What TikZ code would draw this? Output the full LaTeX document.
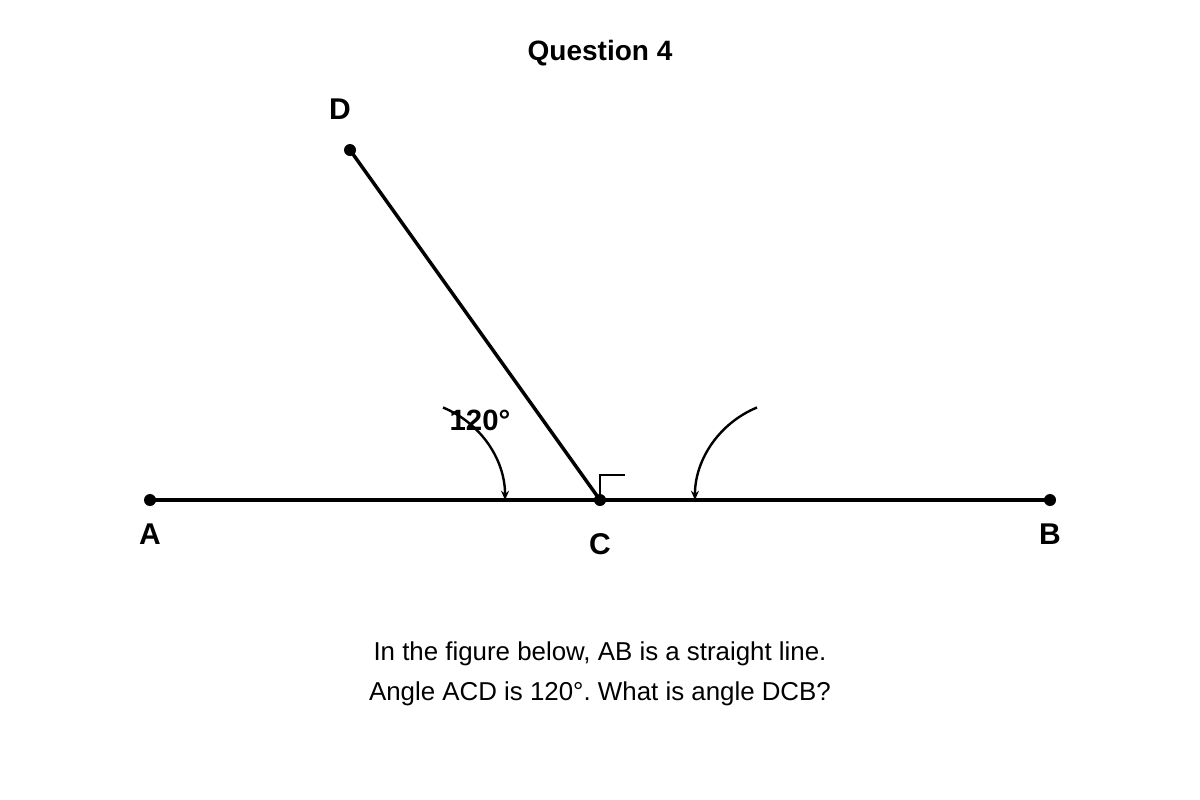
\documentclass[tikz,border=0pt]{standalone}
\usepackage{fontspec}
\setmainfont{Liberation Sans}
\usetikzlibrary{arrows.meta}
\frenchspacing

\begin{document}
\begin{tikzpicture}
		[
		x=0.75pt, y=-0.75pt,
		dot/.style={circle, fill=black, inner sep=0pt, minimum size=9pt},
		lbl/.style={font=\fontsize{22.5}{26}\selectfont\bfseries},
		seg/.style={line width=2.6pt},
		anglearc/.style={line width=1.8pt, -{Stealth[length=7pt,width=6pt]}},
		rightmark/.style={line width=1.1pt}
		]
		\useasboundingbox (0,0) rectangle (1200,800);
		% title
		\node[font=\fontsize{21}{25}\selectfont\bfseries] (title) at (600,53) {Question 4};
		% points
		\coordinate (A) at (150,500);
		\coordinate (B) at (1050,500);
		\coordinate (C) at (600,500);
		\coordinate (D) at (350,150);
		\draw[seg] (A) -- (B);
		\draw[seg] (C) -- (D);
		\foreach \p in {A,B,C,D}
		\node[dot] (dot\p) at (\p) {};
		% labels
		\node[lbl] (labA) at (150,534) {A};
		\node[lbl] (labB) at (1050,534) {B};
		\node[lbl] (labC) at (600,544) {C};
		\node[lbl] (labD) at (340,109) {D};
		% angle arcs
		\draw[anglearc] (443,407.5) arc[start angle=-67.7, end angle=0, radius=100];
		\draw[anglearc] (757,407.5) arc[start angle=-112.3, end angle=-180, radius=100];
		\node[font=\fontsize{22}{26}\selectfont\bfseries] (ang) at (480,420) {120°};
		% right angle mark
		\draw[rightmark] (C) |- (625,475);
		% question
		\node[align=center, font=\fontsize{19.4}{30}\selectfont] (question) at (600,674)
			{In the figure below, AB is a straight line.\\Angle ACD is 120°. What is angle DCB?};
\end{tikzpicture}
\end{document}
